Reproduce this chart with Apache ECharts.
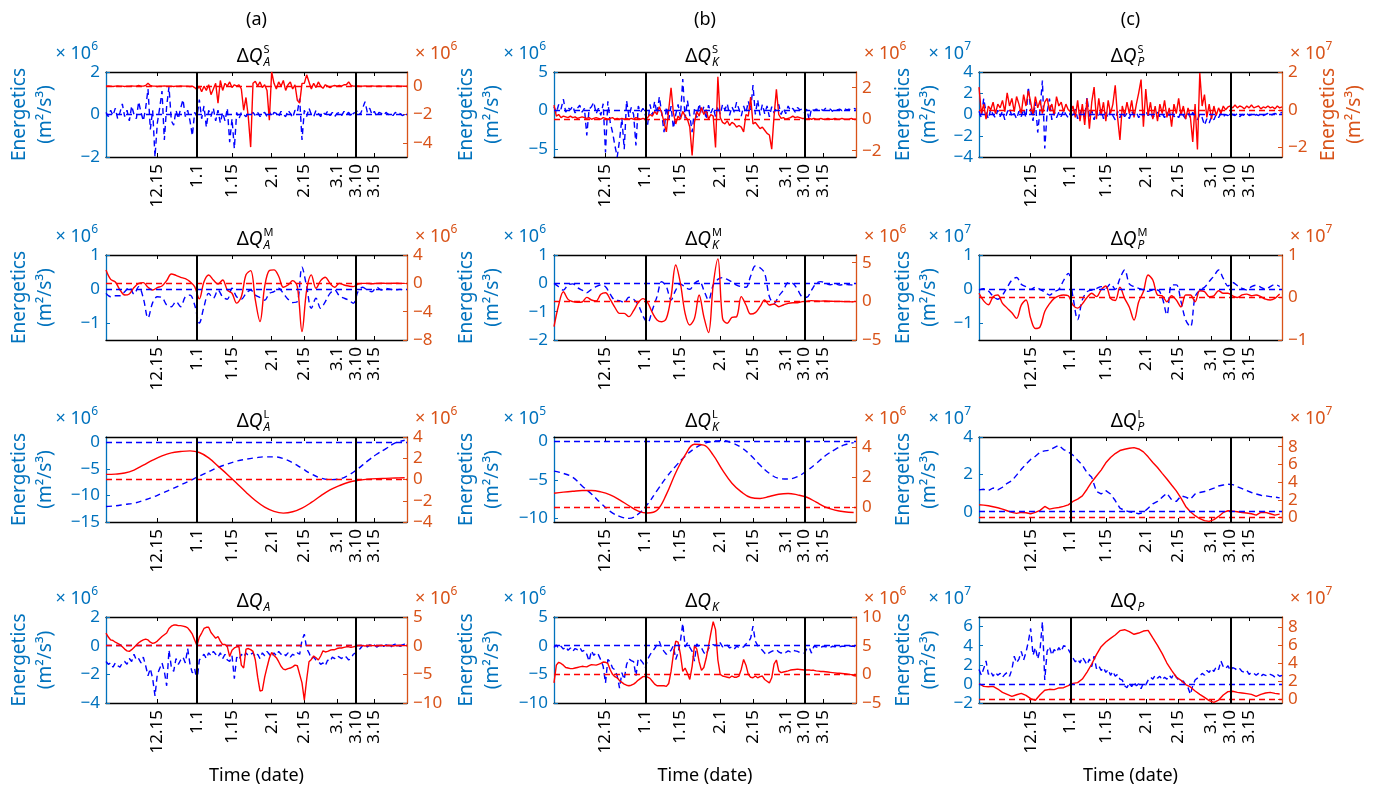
<!DOCTYPE html>
<html><head><meta charset="utf-8">
<script src="https://cdn.jsdelivr.net/npm/echarts@6/dist/echarts.min.js"></script>
<style>html,body{margin:0;padding:0;background:#fff}#c{width:1376px;height:788px}</style>
</head><body><div id="c"></div>
<script>
// ---------------- DATA ----------------
// time axis: days relative to 1 January (1.1 = 0); series start at DAY0
const DAY0 = -39;
const xTickDays = [-17, 0, 15, 32, 46, 60, 68, 76];
const xTickLabels = ['12.15', '1.1', '1.15', '2.1', '2.15', '3.1', '3.10', '3.15'];
const eventDays = [0, 68];
const columnLabels = ['(a)', '(b)', '(c)'];
const subscripts = ['A', 'K', 'P'];
const superscripts = ['S', 'M', 'L', ''];

// Row 1 (daily)
const a1Blue = [0.1,-0.1,0.2,-0.05,0.3,-0.2,0.1,0.5,-0.1,0.2, -0.3,0.4,0.0,-0.2,0.6,0.1,-0.3,0.3,1.2,-0.7, 0.2,-2.0,-0.4,0.3,1.1,-1.2,0.4,1.3,-0.3,-0.5, 0.2,-0.2,0.3,0.7,-0.1,0.2,-0.3,-1.0,0.1,-0.1,
 0.7,-0.2,0.4,-0.6,0.2,-0.1,0.3,-0.3,0.2,-0.4, 0.1,-0.3,0.3,-1.3,-0.2,-1.6,0.1,-0.2,0.1,0.0, -0.1,0.05,0.0,0.1,-0.05,0.1,-0.1,0.05,0.1,-0.1, 0.15,-0.1,0.1,0.05,-0.1,0.15,0.0,-0.1,0.2,0.05,
 -0.15,0.2,0.1,0.75,-1.2,0.2,-0.1,0.3,0.0,-0.1, 0.2,0.05,-0.1,0.1,0.0,0.15,-0.05,0.1,-0.1,0.05, 0.1,-0.05,0.15,0.0,0.1,-0.1,0.05,0.1,0.2,0.0, 0.3,0.6,0.1,0.3,0.0,0.15,-0.1,0.1,0.05,-0.05, 0.1,0.0,0.05,-0.05,0.1,0.0,0.05,-0.05,0.0,0.05];
const a1Red = [0,0.02,0,-0.02,0,0.02,0,0,-0.02,0, 0,0.02,0,0,0.05,0,0,0.05,0.2,0.05, 0,0,-0.02,0,0,0.02,0,0,0,-0.02, 0,0,0.02,0,0,0,-0.02,0,-0.1,-0.25,
 0.0,-0.4,0.0,-0.3,0.1,-0.6,-0.2,0.2,-1.2,0.4, -0.3,0.2,0.0,0.3,-0.1,0.1,0.0,0.1,-0.2,-1.7, -0.8,-2.2,-4.3,0.2,0.35,0.0,0.3,-0.1,0.1,-0.3, -2.4,1.0,0.2,-0.2,0.3,0.0,0.4,-0.3,0.1,0.3,
 -0.2,0.1,-1.0,-1.2,0.2,0.2,0.8,0.3,-0.2,0.2, -0.1,0.3,0.0,-0.15,0.1,0.0,-0.1,0.0,0.05,0.0, 0.05,0.0,0.1,0.1,0.3,0.05,0.0,0.0,0.02,0, 0,0.02,0,0,0.02,0,0,0.02,0,0, 0,0.02,0,0,0,0.02,0,0,0,0];
const b1Blue = [0.5,-0.3,0.8,0.2,1.5,-0.2,0.4,0.1,0.6,-0.3, 0.3,0.7,-0.2,0.3,-3.2,0.2,0.5,1.1,-0.4,0.3, -0.6,0.9,-5.4,1.2,-1.5,-2.8,-4.5,-6.0,-3.8,-1.0, -5.0,1.3,-0.8,0.4,-0.5,-4.5,0.6,-0.2,0.3,-0.5,
 -1.8,0.8,-0.6,1.2,-0.4,1.8,-0.3,-2.8,0.5,-1.2, 0.6,-2.3,-0.5,0.8,-0.8,4.1,-1.0,1.3,-0.6,-2.8, 0.2,-0.9,0.9,-0.4,0.5,-1.1,0.7,-0.3,0.4,-0.8, 0.6,-0.5,0.8,0.1,0.9,-0.6,0.5,-0.2,1.1,0.2,
 -0.7,0.6,-0.3,1.2,0.0,3.3,-0.5,1.4,-0.6,0.8, -0.4,0.6,-0.8,0.5,-0.3,0.4,0.8,-0.5,0.3,-0.4, 0.6,0.0,0.3,-0.2,0.4,0.1,0.2,-0.3,0.2,-1.2, 0.3,0.0,0.2,0.1,0.2,0.0,0.3,0.1,0.2,-0.1, 0.3,0.1,0.2,0.0,0.3,0.1,0.2,0.1,0.3,0.2];
const b1Red = [0.9,0.2,0.3,0.1,0.2,0.15,0.1,0.2,0.1,0.15, 0.05,0.1,0.15,0.1,0.05,0.1,0.0,0.05,0.1,0.05, 0.0,0.1,0.05,0.0,0.05,0.1,0.0,0.05,0.0,0.05, 0.0,0.05,0.0,0.05,0.0,0.1,0.05,0.0,0.05,0.0,
 0.1,0.3,0.2,0.5,0.3,0.8,0.4,-0.2,-0.8,0.6, 2.0,0.4,-0.3,0.2,0.0,0.5,0.2,0.0,-0.5,-2.3, -0.2,0.5,0.2,0.75,0.3,0.6,0.0,0.3,0.2,-1.8, 2.7,0.1,-0.2,-0.3,-0.1,-0.4,-0.2,-0.3,-0.5,-0.4,
 -0.5,-0.8,0.3,0.2,1.4,-0.3,-0.2,-0.4,-0.6,-0.5, -0.7,-0.9,-1.0,-1.9,0.2,1.9,0.3,0.05,0.1,0.0, 0.05,0.1,0.2,0.1,0.15,0.1,0.05,0.05,0.0,0.05, 0.0,0.05,0.0,0.0,0.05,0.0,0.0,0.05,0.0,0.0, 0.05,0.0,0.0,0.05,0.0,0.0,0.0,0.05,0.0,0.0];
const c1Blue = [0.3,-0.3,1.5,0.2,-0.4,0.5,0.0,-0.3,0.4,-0.2, 0.3,-0.5,0.2,0.6,-0.2,0.1,-0.4,0.3,-0.2,0.5, -0.3,2.6,0.4,-0.6,1.2,-1.7,0.5,3.2,-3.2,0.2, 1.5,-0.5,0.3,-0.3,0.2,-0.2,0.4,0.0,-0.3,0.2,
 -0.2,0.5,-0.4,0.1,0.6,-0.3,1.6,-0.2,0.4,-0.5, 0.3,-0.2,0.5,-0.4,0.2,-0.3,0.4,-0.1,-0.5,0.3, -0.3,0.2,-0.2,0.1,-0.4,0.3,-0.1,0.2,-0.3,0.1, -0.2,0.3,-0.1,0.2,-0.3,0.0,0.2,-0.2,0.1,-0.3,
 0.2,-0.1,0.3,-0.2,0.0,-0.3,0.2,-0.1,-0.4,0.1, -0.3,0.2,-0.2,-0.5,0.0,-0.3,-1.0,-0.4,-0.8,-0.2, -0.5,0.0,-0.3,0.1,-0.2,0.0,-0.1,0.1,0.0,-0.1, 0.1,-0.2,0.0,-0.1,0.1,-0.1,0.0,-0.2,0.0,-0.1, 0.1,-0.1,0.0,0.1,-0.1,0.0,0.1,0.0,0.1,0.2];
const c1Red = [1.2,-0.2,0.3,-0.5,0.2,0.0,0.4,-0.2,0.3,0.1, 0.5,-0.1,0.9,0.2,0.6,-0.1,0.7,0.3,-0.2,0.8, 0.2,1.0,0.4,-0.3,0.7,0.1,0.5,-0.2,0.4,0.6, 0.0,0.3,-0.3,0.7,0.2,0.4,-0.1,0.3,0.0,-0.1,
 0.2,-0.4,0.5,-0.6,0.3,-0.8,0.6,-1.0,0.4,1.2, -0.5,0.6,-0.3,0.4,-0.6,0.5,-0.2,0.3,1.3,-0.4, -1.6,0.2,-0.3,0.4,-0.2,0.5,-0.4,0.3,0.9,1.6, -0.9,1.1,-0.3,0.4,-0.5,0.2,-0.6,0.3,-0.2,0.5,
 -0.4,0.1,-0.9,0.3,-0.2,0.6,-0.3,0.2,-0.5,0.1, -0.4,-1.7,0.3,-2.1,1.95,0.2,0.8,-0.4,0.3,-0.5, 0.2,-0.3,0.1,-0.2,0.2,0.0,0.15,0.2,0.1,0.25, 0.1,0.2,0.15,0.05,0.2,0.1,0.25,0.1,0.15,0.2, 0.05,0.15,0.1,0.2,0.1,0.15,0.05,0.2,0.1,0.15];

// Row 2 (every 2 days)
const a2Blue = [-0.13,-0.23,-0.2,-0.2,-0.08,0.05,-0.15,0.07,-0.27,-0.85, -0.4,-0.23,-0.25,-0.47,-0.52,-0.37,-0.52,-0.23,-0.18,-0.47, -1.0,-0.52,-0.13,-0.27,-0.03,-0.23,-0.3,0.02,-0.23,-0.3,
 -0.13,-0.03,-0.18,-0.25,-0.33,-0.13,-0.08,0.02,-0.13,-0.3, -0.4,-0.37,0.64,0.07,-0.57,-0.27,-0.57,-0.37,-0.13,-0.03, -0.2,-0.27,-0.33,-0.42,-0.08,0.05,-0.03,-0.08,0.05,-0.03, 0.02,-0.01,-0.03,-0.01,-0.03];
const a2Red = [1.88,0.56,0.19,-0.94,-1.65,-1.5,-0.6,0.0,0.1,-0.56, -0.94,-0.6,-0.38,0.38,1.32,1.13,0.85,0.66,0.24,-0.47, -2.2,0.24,1.18,0.47,-0.1,0.47,-0.94,-1.4,-2.8,-1.9,
 1.2,1.8,-2.35,-5.4,-0.47,1.8,1.9,1.0,-0.56,-0.24, 0.38,-0.47,-6.8,-0.94,1.2,-0.7,0.38,0.85,0.0,-0.56, 0.0,-0.24,-0.38,-0.47,-0.1,0.0,0.0,-0.05,0.0,0.02, 0.0,0.0,0.02,0.0,0.0];
const b2Blue = [0.0,-0.12,-0.24,-0.06,-0.02,-0.15,-0.24,-0.33,-0.21,-0.12, -0.06,-0.12,-0.38,-0.59,-0.61,-0.68,-0.49,-0.56,-0.76,-1.15, -1.39,-0.94,-0.47,0.06,-0.12,-0.59,-0.24,-0.02,-0.14,-0.21,
 0.0,0.09,-0.24,-0.59,-0.06,0.14,0.2,0.14,0.05,-0.06, -0.12,-0.14,0.26,0.61,0.55,0.35,-0.47,-0.71,-0.45,-0.24, 0.02,0.0,-0.21,-0.47,-0.49,-0.24,0.0,0.06,0.0,-0.05, -0.02,-0.06,-0.04,-0.05,-0.06];
const b2Red = [-3.28,-0.47,1.25,0.26,-0.04,-0.13,-0.08,0.52,0.18,0.05, 0.91,1.12,0.26,-0.77,-1.55,-1.55,-1.98,-1.2,-0.17,0.35, -0.17,-1.46,-2.41,-2.63,-2.2,0.61,4.7,2.33,-1.55,-3.06,
 -2.2,0.82,-1.98,-4.05,2.12,5.5,-2.2,-2.84,-2.07,-1.98, 0.61,-0.47,-1.64,-1.46,-0.69,0.18,-0.47,-0.34,-0.69,-0.47, -0.26,-0.17,-0.17,-0.04,0.0,0.09,0.05,0.03,0.05,0.02, 0.0,0.0,-0.04,-0.04,-0.08];
const c2Blue = [-0.03,0.01,-0.06,-0.21,-0.3,-0.18,0.05,0.26,0.34,0.14, 0.07,-0.01,0.05,-0.01,-0.09,-0.18,-0.08,-0.01,0.25,0.46, -0.23,-0.9,-0.32,-0.08,-0.03,0.01,0.07,0.02,0.15,-0.01,
 0.31,0.56,0.15,0.07,0.02,-0.03,-0.07,-0.03,-0.03,-0.25, -0.76,0.12,0.12,-0.37,-0.91,-1.11,-0.23,-0.03,0.05,0.22, 0.38,0.56,0.31,0.09,0.19,0.1,0.02,-0.03,0.07,0.11, 0.05,-0.01,0.07,0.13,0.07];
const c2Red = [0.1,-0.08,-0.17,0.02,0.06,-0.14,-0.25,-0.36,-0.49,-0.18, -0.06,-0.49,-0.73,-0.69,-0.33,-0.15,-0.02,0.04,0.06,0.04, -0.18,-0.25,-0.15,0.0,0.1,0.02,0.18,0.27,-0.02,-0.07,
 0.24,-0.02,-0.23,-0.53,-0.1,0.14,0.53,0.41,0.06,0.04, -0.1,0.04,-0.06,-0.22,0.06,0.06,-0.1,0.16,0.14,0.02, 0.04,0.16,0.1,0.1,0.04,0.0,0.06,0.08,0.04,0.06, 0.02,-0.04,-0.06,-0.02,0.08];

// Row 3 (a, b every 4 days; c every 2 days)
const a3Blue = [-12.07,-11.95,-11.7,-11.45,-10.95,-10.33,-9.58,-8.84,-8.03,-7.22,-6.35,-5.54,-4.73,-4.1,-3.54,-3.17,-2.92,-2.74,-2.74,-3.05,-3.86,-4.91,-5.97,-6.72,-7.03,-6.91,-6.16,-4.98,-3.54,-2.24,-1.18,-0.12,0.38];
const a3Red = [0.48,0.51,0.61,0.89,1.35,1.82,2.23,2.51,2.63,2.69,2.54,2.04,1.26,0.48,-0.36,-1.2,-1.98,-2.6,-3.0,-3.16,-3.04,-2.69,-2.16,-1.54,-0.98,-0.58,-0.26,-0.08,0.02,0.08,0.11,0.14,0.17];
const b3Blue = [-3.85,-4.15,-4.67,-5.79,-6.83,-8.04,-9.12,-9.77,-10.03,-9.46,-8.17,-6.4,-4.67,-3.2,-1.9,-0.91,-0.26,0.04,0.13,-0.18,-0.78,-1.78,-3.07,-4.15,-4.8,-4.89,-4.58,-3.81,-2.86,-1.82,-1.04,-0.44,-0.13];
const b3Red = [0.93,1.0,1.06,1.11,1.11,1.02,0.82,0.49,0.09,-0.27,-0.4,-0.22,0.85,2.3,3.48,4.21,4.15,3.48,2.48,1.6,1.02,0.64,0.58,0.71,0.86,0.91,0.82,0.66,0.33,0.0,-0.2,-0.31,-0.36];
const c3Blue = [1.17,1.2,1.13,1.27,1.17,1.31,1.52,1.66,1.96,2.27, 2.55,2.8,2.97,3.19,3.26,3.29,3.43,3.56,3.33,3.2, 3.03,2.76,2.5,2.09,1.84,1.08,0.95,1.13,0.95,0.6,
 0.19,0.07,0.0,-0.04,-0.11,-0.04,0.19,0.42,0.55,0.78, 0.99,0.64,0.55,0.85,0.78,0.67,0.95,1.03,1.08,1.17, 1.26,1.38,1.43,1.47,1.45,1.34,1.24,1.13,1.03,0.95, 0.88,0.85,0.81,0.78,0.74];
const c3Red = [1.44,1.41,1.33,1.22,1.11,0.96,0.77,0.58,0.47,0.58, 0.55,0.43,0.58,0.81,1.26,0.96,1.07,1.14,1.26,1.44, 1.82,2.08,2.45,3.2,4.02,4.69,5.36,6.19,6.78,7.23,
 7.57,7.72,7.83,7.9,7.75,7.42,6.86,6.22,5.66,4.99, 4.36,3.68,3.01,2.19,1.26,0.66,0.21,-0.13,-0.35,-0.43, -0.24,0.13,0.58,0.77,0.73,0.66,0.58,0.51,0.43,0.28, 0.58,0.58,0.43,0.28,0.39];

// Row 4 (daily, except c4 red every 2 days)
const a4Blue = [-1.1,-1.3,-1.2,-1.5,-1.2,-1.4,-1.5,-1.2,-1.1,-1.3, -0.9,-1.1,-0.6,-1.0,-0.9,-1.2,-0.8,-1.4,-2.1,-1.6, -2.3,-3.5,-2.0,-1.6,-1.2,-1.8,-2.8,-0.3,-1.5,-1.8, -0.9,-1.3,-1.0,-0.8,-1.2,-0.2,-1.3,-1.9,-1.6,-2.5,
 -1.0,-0.8,-0.6,-0.9,-0.5,-0.7,-0.4,-0.6,-0.8,-0.5, -0.9,-0.6,-1.0,-1.1,-0.7,-2.3,-0.8,-1.0,-0.6,-0.8, -0.5,-0.7,-0.6,-0.5,-0.8,-0.6,-0.9,-0.5,-0.7,-0.4, -0.6,-0.8,-0.5,-0.7,-0.4,-0.6,-0.5,-0.7,-0.5,-0.8,
 -0.6,-0.7,-0.5,-0.6,0.4,0.8,-0.2,-0.5,-0.9,-0.8, -1.0,-1.1,-1.3,-1.2,-1.4,-1.0,-1.1,-0.8,-0.9,-0.7, -0.8,-0.9,-0.7,-0.8,-1.0,-0.9,-0.6,-0.5,-0.3,-0.2, 0.0,0.1,-0.1,0.05,-0.05,0.05,-0.1,0.0,0.1,-0.05, 0.05,0.0,-0.1,0.05,0.1,0.0,-0.05,0.05,0.1,0.0];
const a4Red = [2.2,1.5,1.0,0.9,0.6,0.4,0.2,-0.2,-0.6,-0.9, -1.0,-0.7,-0.3,0.1,0.5,0.8,1.0,1.15,1.0,0.6, 0.4,0.5,0.8,1.2,1.6,1.9,2.2,3.0,3.4,3.6, 3.6,3.5,3.5,3.4,3.3,3.1,2.6,2.0,1.0,0.0,
 1.5,2.2,3.0,3.2,3.2,2.3,1.8,1.3,1.6,0.8, 0.2,0.2,-0.2,-1.9,-0.8,-0.4,-0.2,-0.2,-3.4,-3.9, -0.6,-0.5,-0.7,-1.0,-2.5,-5.5,-7.9,-7.8,-5.5,-3.8, -2.2,-1.2,-1.7,-2.1,-2.8,-3.6,-4.1,-4.2,-4.0,-3.9,
 -3.7,-3.4,-3.5,-5.0,-6.5,-9.5,-5.9,-2.8,-2.4,-1.8, -2.1,-2.5,-1.8,-0.9,-1.1,-1.0,-0.8,-0.7,-0.7,-0.5, -0.4,-0.4,-0.3,-0.2,-0.2,-0.3,-0.2,-0.1,0.0,0.05, 0.0,-0.05,0.0,0.05,0.0,0.0,-0.05,0.0,0.05,0.0, 0.0,0.05,0.0,-0.05,0.0,0.0,0.05,0.0,0.0,0.0];
const b4Blue = [-0.3,0.1,-0.5,-0.1,-0.6,-0.2,-0.8,-0.4,-1.0,-0.5, -0.7,-0.3,-1.0,-0.8,-1.5,-2.7,-0.9,-1.7,-1.2,-1.6, -2.5,-3.6,-6.5,-2.4,-2.8,-3.9,-4.2,-5.3,-7.4,-4.7, -5.9,-3.3,-2.3,-2.6,-2.8,-5.3,-2.2,-2.5,-3.0,-3.9,
 -2.4,-1.6,-1.0,-0.5,0.2,0.75,-0.4,-1.0,-1.5,-1.2, -0.8,0.0,-2.4,-1.2,0.8,3.9,-0.2,0.5,-0.3,-1.0, -2.7,0.3,-0.3,-0.4,-1.2,-1.6,-0.5,-0.1,0.2,0.0, 0.7,0.5,-0.2,-0.1,0.1,-0.4,-0.2,-0.6,-0.1,-0.3,
 -0.4,-0.2,0.3,0.6,1.3,3.4,0.8,0.0,-0.4,-0.8, -1.3,-1.6,-1.2,-1.0,-0.8,-0.7,-1.1,-1.3,-1.0,-1.2, -0.9,-1.1,-0.8,-0.9,-1.0,-1.2,-1.3,-1.3,-0.5,-0.3, -1.3,-0.1,-0.2,-0.4,-0.3,-0.1,-0.2,-0.1,-0.3,-0.1, -0.2,0.0,-0.2,-0.1,-0.1,-0.2,0.0,-0.1,-0.1,-0.2];
const b4Red = [-1.5,1.6,2.1,1.9,1.6,1.2,1.1,1.0,1.0,1.1, 1.2,1.3,1.4,1.35,1.3,1.5,1.7,1.65,1.6,1.75, 1.9,2.15,2.1,1.9,0.8,0.0,-0.4,-0.6,-1.1,-1.4, -1.7,-1.9,-2.0,-1.9,-1.7,-1.4,-1.0,-0.7,-0.4,-0.35,
 -0.5,-0.7,-1.2,-1.7,-2.0,-2.0,-2.0,-2.0,-2.1,-1.6, 0.5,3.5,5.8,5.6,3.5,0.5,1.1,0.2,-0.9,1.4, 5.0,4.4,2.2,0.7,1.2,2.8,4.9,7.2,9.2,7.8, 2.5,0.0,-0.3,-0.4,-0.5,-0.6,-0.3,-0.5,-0.5,-0.3,
 0.9,2.6,1.6,0.0,-0.5,-0.6,-0.3,-0.6,-0.4,-0.3, -0.9,-1.2,-1.5,-0.6,1.8,2.5,0.6,0.3,0.4,0.5, 0.6,0.75,0.8,0.85,0.9,0.85,0.8,0.75,0.75,0.75, 0.7,0.7,0.6,0.55,0.5,0.5,0.45,0.4,0.35,0.3, 0.25,0.2,0.2,0.15,0.1,0.05,0.0,-0.05,-0.2,-0.3];
const c4Blue = [1.5,0.9,1.6,2.4,1.0,1.3,0.8,1.2,0.9,1.1, 0.7,1.0,1.2,0.8,1.5,2.9,2.2,2.6,3.4,2.5, 3.3,4.4,5.8,3.0,3.8,2.6,3.6,6.5,0.4,3.4, 3.9,3.0,3.6,3.3,3.8,3.4,4.0,3.9,3.6,3.2,
 2.7,2.3,2.6,2.2,2.8,2.4,2.0,2.6,1.8,2.9, 1.6,1.9,1.4,1.7,1.2,1.5,0.9,1.3,0.8,1.0, 0.5,0.4,-0.2,-0.4,0.1,-0.3,0.2,-0.2,0.0,-0.5, 0.1,-0.1,0.4,0.7,0.5,0.9,0.6,0.8,0.4,0.7,
 0.5,0.9,0.6,1.1,0.7,0.4,0.2,0.3,-0.1,-0.4, -1.1,-0.2,0.4,0.6,0.8,1.1,0.9,1.4,1.2,1.6, 1.3,1.8,1.5,2.4,1.8,1.6,1.9,1.4,1.7,1.6, 1.4,1.6,1.3,1.2,1.4,1.0,1.2,1.1,0.9,1.1, 0.8,1.0,0.9,0.8,1.0,0.9,0.7,1.0,0.8,0.9];
const c4Red = [1.7,1.4,1.36,1.4,1.1,0.73,0.51,0.29,0.47,0.62, 0.4,0.03,-0.15,0.47,0.96,1.07,1.03,1.22,1.25,1.47, 1.73,1.81,2.21,2.99,3.88,4.92,5.81,6.32,6.73,7.1,
 7.58,7.69,7.47,7.18,7.32,7.54,7.62,6.77,5.95,5.03, 3.99,3.18,2.44,2.07,1.59,1.33,0.88,0.51,0.18,-0.19, -0.38,-0.12,0.44,0.81,0.85,0.73,0.66,0.59,0.51,0.29, 0.51,0.66,0.73,0.62,0.55];

// ---------------- PANEL SETUP ----------------
const panels = [
  {r:0,c:0, blue:a1Blue,bStep:1, red:a1Red,rStep:1, L:[-2,2],LT:[-2,0,2], R:[-5,1],RT:[-4,-2,0], le:'6', re:'6'},
  {r:0,c:1, blue:b1Blue,bStep:1, red:b1Red,rStep:1, L:[-6,5],LT:[-5,0,5], R:[-2.4,3],RT:[-2,0,2], le:'6', re:'6'},
  {r:0,c:2, blue:c1Blue,bStep:1, red:c1Red,rStep:1, L:[-4,4],LT:[-4,-2,0,2,4], R:[-2.5,2],RT:[-2,0,2], le:'7', re:'7', rightName:true},
  {r:1,c:0, blue:a2Blue,bStep:2, red:a2Red,rStep:2, L:[-1.5,1],LT:[-1,0,1], R:[-8,4],RT:[-8,-4,0,4], le:'6', re:'6', smooth:0.35},
  {r:1,c:1, blue:b2Blue,bStep:2, red:b2Red,rStep:2, L:[-2,1],LT:[-2,-1,0,1], R:[-5,6],RT:[-5,0,5], le:'6', re:'6', smooth:0.35},
  {r:1,c:2, blue:c2Blue,bStep:2, red:c2Red,rStep:2, L:[-1.5,1],LT:[-1,0,1], R:[-1,1],RT:[-1,0,1], le:'7', re:'7', smooth:0.35},
  {r:2,c:0, blue:a3Blue,bStep:4, red:a3Red,rStep:4, L:[-15,1],LT:[-15,-10,-5,0], R:[-4,4],RT:[-4,-2,0,2,4], le:'6', re:'6', smooth:0.4},
  {r:2,c:1, blue:b3Blue,bStep:4, red:b3Red,rStep:4, L:[-10.5,0.6],LT:[-10,-5,0], R:[-1,4.7],RT:[0,2,4], le:'5', re:'6', smooth:0.4},
  {r:2,c:2, blue:c3Blue,bStep:2, red:c3Red,rStep:2, L:[-0.55,4],LT:[0,2,4], R:[-0.5,9.1],RT:[0,2,4,6,8], le:'7', re:'7'},
  {r:3,c:0, blue:a4Blue,bStep:1, red:a4Red,rStep:1, L:[-4,2],LT:[-4,-2,0,2], R:[-10,5],RT:[-10,-5,0,5], le:'6', re:'6'},
  {r:3,c:1, blue:b4Blue,bStep:1, red:b4Red,rStep:1, L:[-10,5],LT:[-10,-5,0,5], R:[-5,10],RT:[-5,0,5,10], le:'6', re:'6'},
  {r:3,c:2, blue:c4Blue,bStep:1, red:c4Red,rStep:2, L:[-2,7],LT:[-2,0,2,4,6], R:[-0.45,9.1],RT:[0,2,4,6,8], le:'7', re:'7'}
];

const FONT = "'Noto Sans', 'DejaVu Sans', sans-serif";
const BLUE_AX = '#0072BD', ORANGE_AX = '#D95319';
const colLeft = [106, 554, 979], colWidth = [301, 302, 303];
const rowTop = [72, 255, 437, 617], rowHeight = [85, 85, 85, 86];
const yNameX = [33, 480, 917];

function fmt(v) { return v < 0 ? '\u2212' + Math.abs(v) : String(v); }
function toPairs(vals, step) { return vals.map((v, i) => [DAY0 + i * step, v]); }
function xLabel(v) { const i = xTickDays.indexOf(v); return i >= 0 ? xTickLabels[i] : ''; }

const grid = [], xAxis = [], yAxis = [], series = [], graphic = [];

function expText(exp, color, x, y, align) {
  return {type: 'text', x, y, silent: true, style: {
    text: '{m|× 10}{s|' + exp + '}', align, verticalAlign: 'middle',
    rich: {
      m: {fontSize: 18, lineHeight: 22, fontFamily: FONT, fill: color, verticalAlign: 'bottom'},
      s: {fontSize: 12, lineHeight: 12, fontFamily: FONT, fill: color, verticalAlign: 'top'}
    }}};
}

panels.forEach((p, i) => {
  const left = colLeft[p.c], width = colWidth[p.c], top = rowTop[p.r], height = rowHeight[p.r];
  grid.push({left, top, width, height, containLabel: false});
  const baseX = {gridIndex: i, type: 'value', min: DAY0, max: 90, splitLine: {show: false}};
  xAxis.push(Object.assign({}, baseX, {
    position: 'bottom',
    axisLine: {show: true, onZero: false, lineStyle: {color: '#000', width: 1.3}},
    axisTick: {show: true, inside: true, length: 4, customValues: xTickDays, lineStyle: {color: '#000'}},
    axisLabel: {show: true, customValues: xTickDays, rotate: 90, margin: 7, formatter: xLabel, hideOverlap: false,
      showMinLabel: true, showMaxLabel: true, fontSize: 17, lineHeight: 12, color: '#000', fontFamily: FONT}
  }));
  xAxis.push(Object.assign({}, baseX, {
    position: 'top',
    axisLine: {show: true, onZero: false, lineStyle: {color: '#000', width: 1.3}},
    axisTick: {show: true, inside: true, length: 4, customValues: xTickDays, lineStyle: {color: '#000'}},
    axisLabel: {show: false}
  }));
  const mkY = (pos, rng, ticks, color) => ({
    gridIndex: i, type: 'value', position: pos, min: rng[0], max: rng[1], splitLine: {show: false},
    axisLine: {show: true, onZero: false, lineStyle: {color, width: 1.3}},
    axisTick: {show: true, inside: true, length: 4, customValues: ticks, lineStyle: {color}},
    axisLabel: {show: true, customValues: ticks, formatter: fmt, margin: 6, fontSize: 17, lineHeight: 10, interval: 0,
      padding: [-3, 0, -3, 0], showMinLabel: true, showMaxLabel: true, color, fontFamily: FONT, hideOverlap: false}
  });
  yAxis.push(mkY('left', p.L, p.LT, BLUE_AX));
  yAxis.push(mkY('right', p.R, p.RT, ORANGE_AX));

  series.push({
    type: 'line', xAxisIndex: 2 * i, yAxisIndex: 2 * i, data: toPairs(p.blue, p.bStep),
    showSymbol: false, smooth: p.smooth || false, z: 2, animation: false,
    lineStyle: {color: '#0000FF', width: 1.4, type: [6, 4]},
    markLine: {silent: true, symbol: ['none', 'none'], label: {show: false}, animation: false,
      data: [{yAxis: 0, lineStyle: {color: '#0000FF', width: 1.4, type: [6, 4]}}]}
  });
  series.push({
    type: 'line', xAxisIndex: 2 * i, yAxisIndex: 2 * i + 1, data: toPairs(p.red, p.rStep),
    showSymbol: false, smooth: p.smooth || false, z: 3, animation: false,
    lineStyle: {color: '#FF0000', width: 1.4},
    markLine: {silent: true, symbol: ['none', 'none'], label: {show: false}, animation: false,
      data: [{yAxis: 0, lineStyle: {color: '#FF0000', width: 1.4, type: [6, 4]}}]
        .concat(eventDays.map(d => ({xAxis: d, lineStyle: {color: '#000', width: 2, type: 'solid'}})))}
  });

  // title
  const cx = left + width / 2;
  const sub = subscripts[p.c], sup = superscripts[p.r];
  graphic.push({type: 'text', x: cx + 6, y: top - 15, silent: true, style: {
    text: '{d|Δ}{q|Q}', align: 'right', verticalAlign: 'middle', fill: '#000',
    rich: {d: {fontSize: 19, fontFamily: FONT, fill: '#000'}, q: {fontSize: 19, fontFamily: FONT, fontStyle: 'italic', fill: '#000'}}}});
  if (sup) graphic.push({type: 'text', x: cx + 7, y: top - 22, silent: true, style: {
    text: sup, fontSize: 11, fontFamily: FONT, fill: '#000', align: 'left', verticalAlign: 'middle'}});
  graphic.push({type: 'text', x: cx + 7, y: top - 9, silent: true, style: {
    text: sub, fontSize: 12, fontFamily: FONT, fontStyle: 'italic', fill: '#000', align: 'left', verticalAlign: 'middle'}});

  // exponents
  graphic.push(expText(p.le, BLUE_AX, left - 8, top - 20, 'right'));
  graphic.push(expText(p.re, ORANGE_AX, left + width + 8, top - 20, 'left'));

  // y names
  graphic.push({type: 'text', x: yNameX[p.c], y: top + height / 2, rotation: Math.PI / 2, silent: true, style: {
    text: 'Energetics\n(m²/s³)', fontSize: 19, lineHeight: 26, fontFamily: FONT, fill: BLUE_AX, align: 'center', verticalAlign: 'middle'}});
  if (p.rightName) graphic.push({type: 'text', x: 1342, y: top + height / 2, rotation: Math.PI / 2, silent: true, style: {
    text: 'Energetics\n(m²/s³)', fontSize: 19, lineHeight: 26, fontFamily: FONT, fill: ORANGE_AX, align: 'center', verticalAlign: 'middle'}});
});

[0, 1, 2].forEach(c => {
  const cx = colLeft[c] + colWidth[c] / 2;
  graphic.push({type: 'text', x: cx, y: 20, silent: true, style: {
    text: columnLabels[c], fontSize: 18, fontFamily: FONT, fill: '#000', align: 'center', verticalAlign: 'middle'}});
  graphic.push({type: 'text', x: cx, y: 776, silent: true, style: {
    text: 'Time (date)', fontSize: 18, fontFamily: FONT, fill: '#000', align: 'center', verticalAlign: 'middle'}});
});

const chart = echarts.init(document.getElementById('c'), null, {renderer: 'canvas'});
chart.setOption({animation: false, backgroundColor: '#fff', grid, xAxis, yAxis, series, graphic});
</script>
</body></html>
